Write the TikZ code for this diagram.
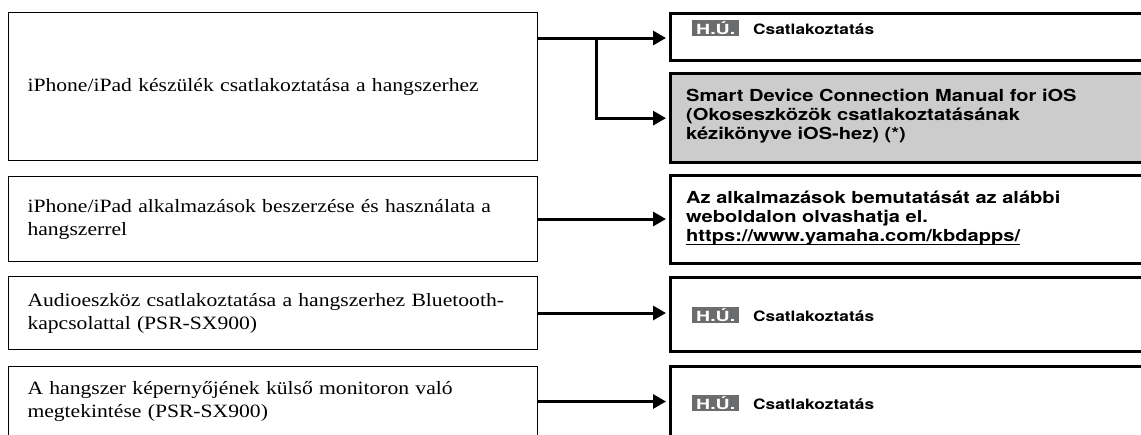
\documentclass[tikz,border=0pt]{standalone}
\usepackage{fontspec}
\usepackage{graphicx}
\setmainfont{Liberation Serif}[FakeStretch=1.15]
\newfontfamily\heros{TeX Gyre Heros}[FakeStretch=1.21]
\definecolor{ManualGray}{HTML}{CCCCCC}
\definecolor{BadgeGray}{HTML}{6B6C6E}
\usetikzlibrary{arrows.meta, calc}
\newcommand{\hubadge}{{\fontsize{14}{14}\selectfont\setlength{\fboxsep}{0pt}\colorbox{BadgeGray}{\raisebox{0pt}[14pt][2pt]{\makebox[47pt]{\color{white}\scalebox{1.15}[1]{H.Ú.}}}}}\hspace*{14pt}}
\newcommand{\linkline}[1]{\setbox0\hbox{#1}\rlap{\rule[-3.5pt]{\wd0}{1.4pt}}\box0}
\tikzset{
  % Box styles
  taskbox/.style={rectangle, draw=black, line width=1pt, anchor=north west, minimum width=529pt, text width=491pt, inner xsep=19pt, align=left, font=\fontsize{18.8}{23}\selectfont},
  refbox/.style={rectangle, draw=black, line width=3.3pt, anchor=north west, minimum width=540pt},
  reflabel/.style={anchor=west, inner sep=0pt, align=left, font=\heros\bfseries\fontsize{16.6}{19}\selectfont},
  badgelabel/.style={reflabel, font=\heros\bfseries\fontsize{14.3}{15}\selectfont},
  % Arrow styles
  arrow/.style={-{Triangle[length=13pt,width=14pt]}, line width=3pt, shorten >=3pt}
}

\begin{document}
\begin{tikzpicture}[x=1pt, y=-1pt]
  \useasboundingbox (0,0) rectangle (1141,434);
  \clip (0,0) rectangle (1141,434);

  % Tasks
  \node[taskbox, minimum height=148pt] (dev) at (8,12) {iPhone/iPad készülék csatlakoztatása a hangszerhez};
  \node[taskbox, minimum height=85pt] (app) at (8,176) {iPhone/iPad alkalmazások beszerzése és használata a\\hangszerrel};
  \node[taskbox, minimum height=73pt] (bt) at (8,276) {Audioeszköz csatlakoztatása a hangszerhez Bluetooth-\\kapcsolattal (PSR-SX900)};
  \node[taskbox, minimum height=70pt] (mon) at (8,366) {A hangszer képernyőjének külső monitoron való\\megtekintése (PSR-SX900)};

  % References
  \node[refbox, minimum height=47pt] (conn1) at (669,12) {};
  \node[badgelabel] at (692,28) {\hubadge Csatlakoztatás};

  \node[refbox, minimum height=89pt, fill=ManualGray] (manual) at (669,72) {};
  \node[reflabel] at (686,116.4) {Smart Device Connection Manual for iOS\\(Okoseszközök csatlakoztatásának\\kézikönyve iOS-hez) (*)};

  \node[refbox, minimum height=88pt] (web) at (669,174) {};
  \node[reflabel] at (686,218) {Az alkalmazások bemutatását az alábbi\\weboldalon olvashatja el.\\\linkline{https://www.yamaha.com/kbdapps/}};

  \node[refbox, minimum height=74pt] (conn2) at (669,276) {};
  \node[badgelabel] at (692,315) {\hubadge Csatlakoztatás};

  \node[refbox, minimum height=74pt] (conn3) at (669,365) {};
  \node[badgelabel] at (692,403) {\hubadge Csatlakoztatás};

  % Connectors
  \coordinate (split) at (596,38);
  \draw[arrow] (dev.east |- split) -- (conn1.west |- split);
  \draw[arrow] (split) |- (manual.west);
  \draw[arrow] (app.east) -- (app.east -| web.west);
  \draw[arrow] (bt.east) -- (bt.east -| conn2.west);
  \draw[arrow] (mon.east) -- (mon.east -| conn3.west);
\end{tikzpicture}
\end{document}
